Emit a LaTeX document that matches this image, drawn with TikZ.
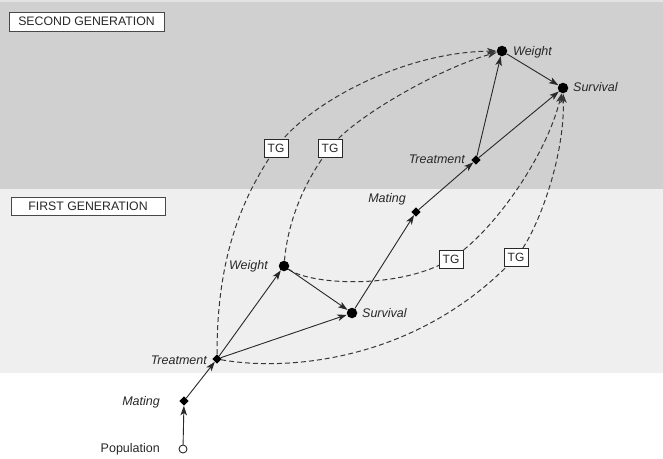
\documentclass[tikz,border=0pt]{standalone}
\usepackage{fontspec}
\setmainfont{Liberation Sans}
\usetikzlibrary{arrows.meta,shapes.geometric}
\definecolor{topband}{RGB}{208,208,208}
\definecolor{midband}{RGB}{239,239,239}
\definecolor{ink}{RGB}{40,40,40}
\definecolor{dashink}{RGB}{55,55,55}
\begin{document}
\begin{tikzpicture}[x=1pt,y=-1pt,
  font=\fontsize{12.5}{14}\selectfont,
  dot/.style={circle,fill=black,inner sep=0pt,minimum size=10.5pt},
  opendot/.style={circle,draw=ink,fill=white,line width=0.9pt,inner sep=0pt,minimum size=8pt},
  dmd/.style={diamond,fill=black,inner sep=0pt,minimum size=9.5pt},
  lab/.style={inner sep=0pt,text=ink,font=\fontsize{12.5}{14}\selectfont\itshape},
  plainlab/.style={inner sep=0pt,text=ink},
  tgbox/.style={draw=ink,fill=white,line width=1pt,inner sep=0pt,minimum width=24pt,minimum height=18pt,text=ink,font=\fontsize{12}{14}\selectfont},
  genbox/.style={draw=ink!85,fill=white,line width=1pt,inner sep=0pt,minimum height=19pt,text=ink,font=\fontsize{12.3}{14}\selectfont},
  solidarrow/.style={draw=ink,line width=0.9pt,-{Stealth[length=9.5pt,width=6.5pt,inset=2.5pt]}},
  dasharrow/.style={draw=dashink,line width=1pt,dash pattern=on 5pt off 3pt,-{Stealth[length=9.5pt,width=6.5pt,inset=2.5pt]}},
]
\useasboundingbox (0,0) rectangle (663,458);
\fill[white] (0,0) rectangle (663,458);
\fill[topband!60!white] (0,0) rectangle (663,2);
\fill[topband] (0,2) rectangle (663,189);
\fill[midband] (0,189) rectangle (663,373);

% generation boxes
\node[genbox,minimum width=155pt] (gen2) at (86.5,21.5) {SECOND GENERATION};
\node[genbox,minimum width=154pt,minimum height=17.5pt] (gen1) at (88,206.5) {FIRST GENERATION};

% main nodes
\node[opendot] (pop) at (183,449) {};
\node[dmd] (mat1) at (184,401) {};
\node[dmd] (trt1) at (217,359) {};
\node[dot] (wt1) at (284,266) {};
\node[dot] (sv1) at (352,313) {};
\node[dmd] (mat2) at (416,212) {};
\node[dmd] (trt2) at (476,160) {};
\node[dot] (wt2) at (502,51) {};
\node[dot] (sv2) at (563,88) {};

% labels
\node[plainlab,anchor=mid east] (popl) at (160,450) {Population};
\node[lab,anchor=mid east] (mat1l) at (160,403) {Mating};
\node[lab,anchor=mid east] (trt1l) at (207,362) {Treatment};
\node[lab,anchor=mid east] (wt1l) at (268,267) {Weight};
\node[lab,anchor=mid west] (sv1l) at (362,315) {Survival};
\node[lab,anchor=mid east] (mat2l) at (406,200) {Mating};
\node[lab,anchor=mid east] (trt2l) at (465,161) {Treatment};
\node[lab,anchor=mid west] (wt2l) at (513,53) {Weight};
\node[lab,anchor=mid west] (sv2l) at (573,89) {Survival};

% dashed transgenerational curves
\coordinate (m1) at (276,148);
\coordinate (m2) at (330,148);
\coordinate (m3) at (451,259);
\coordinate (m4) at (516,257);
\draw[dasharrow] (trt1) .. controls (217,260) and (240,200) .. (m1) .. controls (305,106) and (400,52) .. (wt2);
\draw[dasharrow] (wt1) .. controls (288,220) and (305,180) .. (m2) .. controls (352,118) and (440,68) .. (wt2);
\draw[dasharrow] (wt1) .. controls (310,285) and (400,290) .. (m3) .. controls (490,235) and (545,160) .. (sv2);
\draw[dasharrow] (trt1) .. controls (290,372) and (420,360) .. (m4) .. controls (535,237) and (565,160) .. (sv2);

\node[tgbox] (tg1) at (m1) {TG};
\node[tgbox] (tg2) at (m2) {TG};
\node[tgbox] (tg3) at (m3) {TG};
\node[tgbox] (tg4) at (m4) {TG};

% solid arrows
\draw[solidarrow] (pop) -- (mat1);
\draw[solidarrow] (mat1) -- (trt1);
\draw[solidarrow] (trt1) -- (wt1);
\draw[solidarrow] (trt1) -- (sv1);
\draw[solidarrow] (wt1) -- (sv1);
\draw[solidarrow] (sv1) -- (mat2);
\draw[solidarrow] (mat2) -- (trt2);
\draw[solidarrow] (trt2) -- (wt2);
\draw[solidarrow] (trt2) -- (sv2);
\draw[solidarrow] (wt2) -- (sv2);
\end{tikzpicture}
\end{document}
